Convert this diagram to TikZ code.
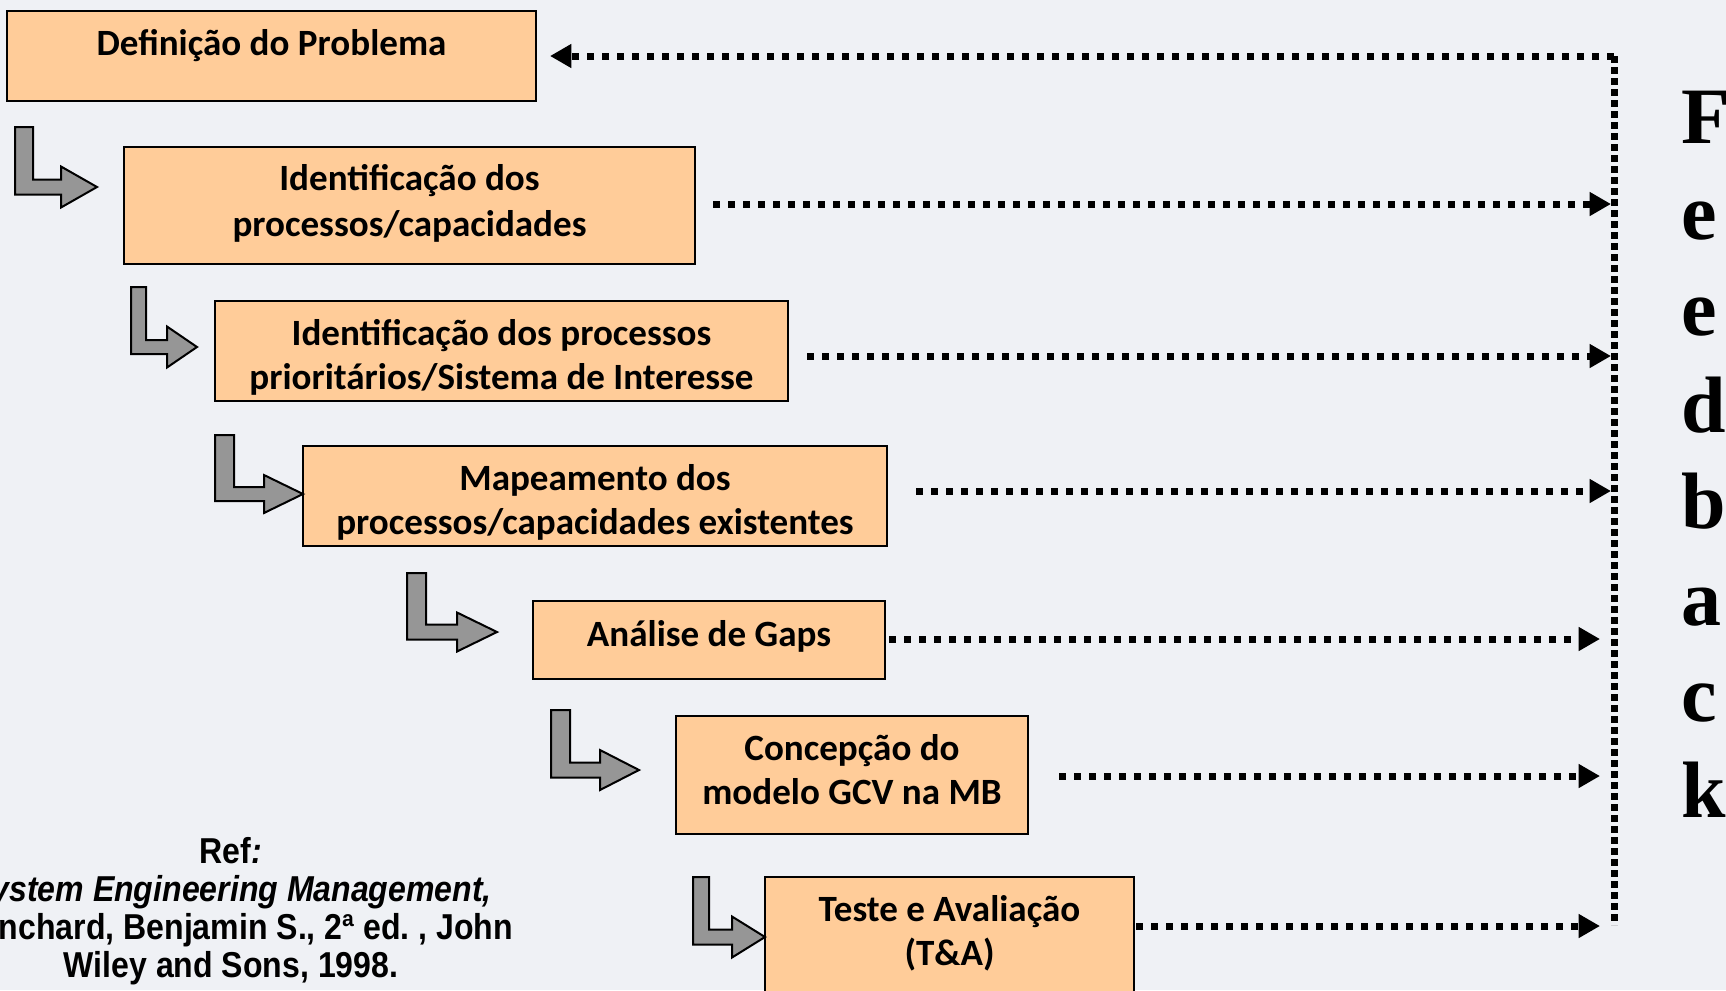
\documentclass[tikz,border=0pt]{standalone}
\usepackage{fontspec}
\setmainfont{Carlito}
\newfontfamily\reffont[FakeStretch=0.89]{Liberation Sans}
\newfontfamily\fbfont{Liberation Serif}
\usetikzlibrary{arrows.meta}
\definecolor{bg}{RGB}{239,241,245}
\definecolor{boxfill}{RGB}{255,204,153}
\definecolor{arrgray}{RGB}{150,150,150}
\tikzset{
  box/.style={draw=black, line width=1.5pt, fill=boxfill, inner sep=0pt, outer sep=0pt, rectangle},
  lbl/.style={font=\bfseries\fontsize{27.8}{33}\selectfont, anchor=base, inner sep=0pt},
  fbline/.style={line width=5.25pt, dash pattern=on 5.25pt off 6pt},
  fbvert/.style={line width=5.25pt, dash pattern=on 5.25pt off 3pt},
  fbtip/.style={-{Triangle[length=16pt,width=17pt]}},
  blockarr/.style={draw=black, line width=1.5pt, fill=arrgray, line join=miter},
  fbl/.style={font=\fbfont\bfseries\fontsize{60}{66}\selectfont, anchor=base west, inner sep=0pt},
  reftxt/.style={font=\reffont\bfseries\fontsize{27}{30}\selectfont, anchor=base, inner sep=0pt},
}
\newcommand\barrow[8]{\draw[blockarr] (#1,#3) -- ({#1+#2},#3) -- ({#1+#2},{#7-#8/2}) -- (#4,{#7-#8/2}) -- (#4,{#7-#5}) -- (#6,#7) -- (#4,{#7+#5}) -- (#4,{#7+#8/2}) -- (#1,{#7+#8/2}) -- cycle;}
\begin{document}
\begin{tikzpicture}[x=0.75pt,y=-0.75pt]
\path[use as bounding box] (0,0) rectangle (1726,990);
\clip (0,0) rectangle (1726,990);
\fill[bg] (0,0) rectangle (1726,990);

% boxes
\node[box, minimum width=396.75pt, minimum height=67.5pt] (b1) at (271.5,56) {};
\node[box, minimum width=428.25pt, minimum height=87.75pt] (b2) at (409.5,205.5) {};
\node[box, minimum width=429.75pt, minimum height=75pt] (b3) at (501.5,351) {};
\node[box, minimum width=438pt, minimum height=75pt] (b4) at (595,496) {};
\node[box, minimum width=264pt, minimum height=58.5pt] (b5) at (709,640) {};
\node[box, minimum width=264pt, minimum height=88.5pt] (b6) at (852,775) {};
\node[box, minimum width=276.75pt, minimum height=96pt] (b7) at (949.5,941) {};

% texts
\node[lbl] (t1) at (271.5,55) {Definição do Problema};
\node[lbl] (t2a) at (409.5,190) {Identificação dos};
\node[lbl] (t2b) at (409.5,236) {processos/capacidades};
\node[lbl] (t3a) at (501.5,345) {Identificação dos processos};
\node[lbl] (t3b) at (501.5,389) {prioritários/Sistema de Interesse};
\node[lbl] (t4a) at (595,490) {Mapeamento dos};
\node[lbl] (t4b) at (595,534) {processos/capacidades existentes};
\node[lbl] (t5) at (709,646) {Análise de Gaps};
\node[lbl] (t6a) at (852,760) {Concepção do};
\node[lbl] (t6b) at (852,804) {modelo GCV na MB};
\node[lbl] (t7a) at (949.5,921) {Teste e Avaliação};
\node[lbl] (t7b) at (949.5,965) {(T\&A)};

% block arrows
\barrow{15}{18}{127}{61}{20.5}{97}{187}{15}
\barrow{131}{15}{287}{167}{20.5}{197}{347}{14}
\barrow{215}{19}{435}{264}{19}{303}{494}{14}
\barrow{407}{19}{573}{457}{19.5}{497}{632}{15}
\barrow{551}{19}{710}{600}{20}{639}{770}{15}
\barrow{693}{16}{877}{732}{20.5}{765}{937}{15}

% feedback connectors
\coordinate (vtop) at (1614,56);
\coordinate (vbot) at (1614,925);
\coordinate (e2) at (1611,204);
\coordinate (e3) at (1611,356);
\coordinate (e4) at (1611,491);
\coordinate (e5) at (1600,639);
\coordinate (e6) at (1600,776);
\coordinate (e7) at (1600,926);
\draw[fbvert] (vtop) -- (vbot);
\draw[fbline, fbtip, shorten >=10.5pt] (vtop) -- (b1.east);
\draw[fbline, fbtip, shorten <=13.5pt] (b2.east |- e2) -- (e2);
\draw[fbline, fbtip, shorten <=14.25pt] (b3.east |- e3) -- (e3);
\draw[fbline, fbtip, shorten <=21.75pt] (b4.east |- e4) -- (e4);
\draw[fbline, fbtip, shorten <=3pt] (b5.east |- e5) -- (e5);
\draw[fbline, fbtip, shorten <=23.25pt] (b6.east |- e6) -- (e6);
\draw[fbline, fbtip, shorten <=1.5pt] (b7.east |- e7) -- (e7);

% Feedback letters
\foreach \l [count=\i from 0] in {F,e,e,d,b,a,c,k}
  \node[fbl] (fb\i) at (1681,{143+96.4*\i}) {\l};

% reference
\node[reftxt] (r1) at (231,863) {Ref\textit{:}};
\node[reftxt] (r2) at (231,901) {\itshape System Engineering Management,};
\node[reftxt] (r3) at (231,939) {Blanchard, Benjamin S., 2ª ed.\ , John};
\node[reftxt] (r4) at (231,977) {Wiley and Sons, 1998.};
\end{tikzpicture}
\end{document}
